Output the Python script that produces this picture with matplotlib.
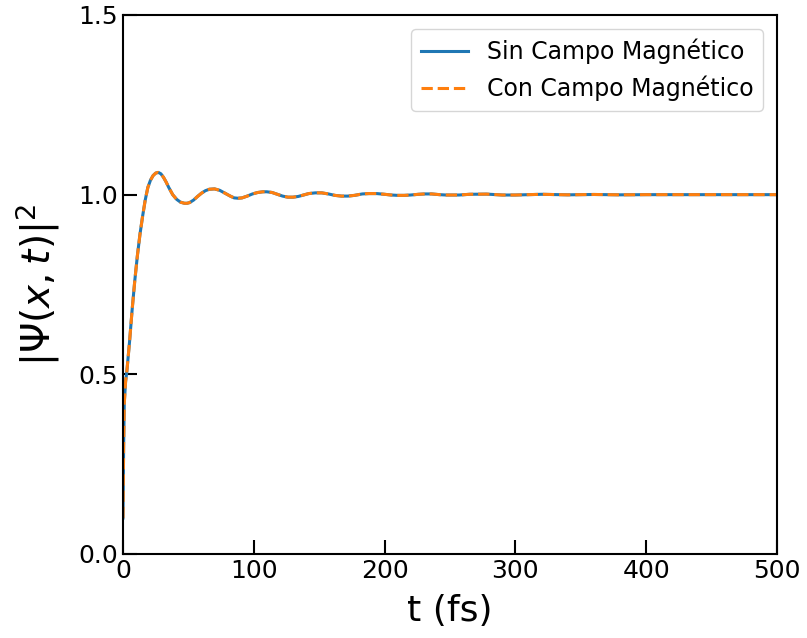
import matplotlib
matplotlib.use('Agg')
from matplotlib import pyplot as plt

# values
t_fs = [0, 0.5, 1, 2, 3, 5, 7, 9, 11, 13, 15, 17, 19, 21, 23, 25, 27, 29, 31, 33, 35,
        38, 41, 44, 47, 49, 51, 54, 57, 60, 63, 66, 70, 74, 78, 82, 85, 88, 91, 95,
        99, 103, 107, 110, 114, 118, 122, 126, 130, 134, 138, 142, 147, 152, 157,
        162, 167, 172, 177, 183, 188, 194, 200, 205, 210, 215, 220, 226, 231, 236,
        242, 247, 252, 257, 265, 278, 290, 300, 320, 340, 360, 380, 400, 420, 450, 500]
psi_sin = [0.10, 0.30, 0.42, 0.48, 0.51, 0.59, 0.68, 0.76, 0.83, 0.89, 0.94, 0.985,
           1.02, 1.04, 1.053, 1.06, 1.062, 1.058, 1.048, 1.035, 1.02,
           1.0, 0.987, 0.979, 0.976, 0.976, 0.978, 0.985, 0.995, 1.004, 1.011, 1.015,
           1.016, 1.012, 1.004, 0.996, 0.991, 0.990, 0.991, 0.996,
           1.002, 1.006, 1.008, 1.008, 1.006, 1.001, 0.996, 0.993, 0.993, 0.995, 0.999,
           1.003, 1.005, 1.005, 1.002,
           0.998, 0.996, 0.996, 0.998, 1.002, 1.003, 1.003, 1.001, 0.999, 0.998, 0.998,
           0.999, 1.001, 1.002, 1.002,
           1.0, 0.999, 0.999, 0.999, 1.001, 1.0015, 0.999, 0.999, 1.001, 0.9995, 1.0005,
           0.9995, 1.0, 1.0, 1.0, 1.0]
psi_con = list(psi_sin)

fig = plt.figure(figsize=(8.07, 6.38), dpi=100)
ax = fig.add_axes([0.1524, 0.1317, 0.8104, 0.8448])

ax.plot(t_fs, psi_sin, color='#1f77b4', lw=2.2, label='Sin Campo Magnético')
ax.plot(t_fs, psi_con, color='#ff7f0e', lw=2.2, ls='--', label='Con Campo Magnético')

ax.set_xlim(0, 500)
ax.set_ylim(0, 1.5)
ax.set_xticks([0, 100, 200, 300, 400, 500])
ax.set_yticks([0.0, 0.5, 1.0, 1.5])

ax.tick_params(axis='both', direction='in', length=10, width=1.5, labelsize=18)
for s in ax.spines.values():
    s.set_linewidth(1.5)

ax.set_xlabel('t (fs)', fontsize=26, labelpad=8)
ax.set_ylabel(r'$|\Psi(x,t)|^2$', fontsize=28, labelpad=12)

ax.legend(loc='upper right', fontsize=17, borderaxespad=0.6)

fig.savefig('out.png', dpi=100)
